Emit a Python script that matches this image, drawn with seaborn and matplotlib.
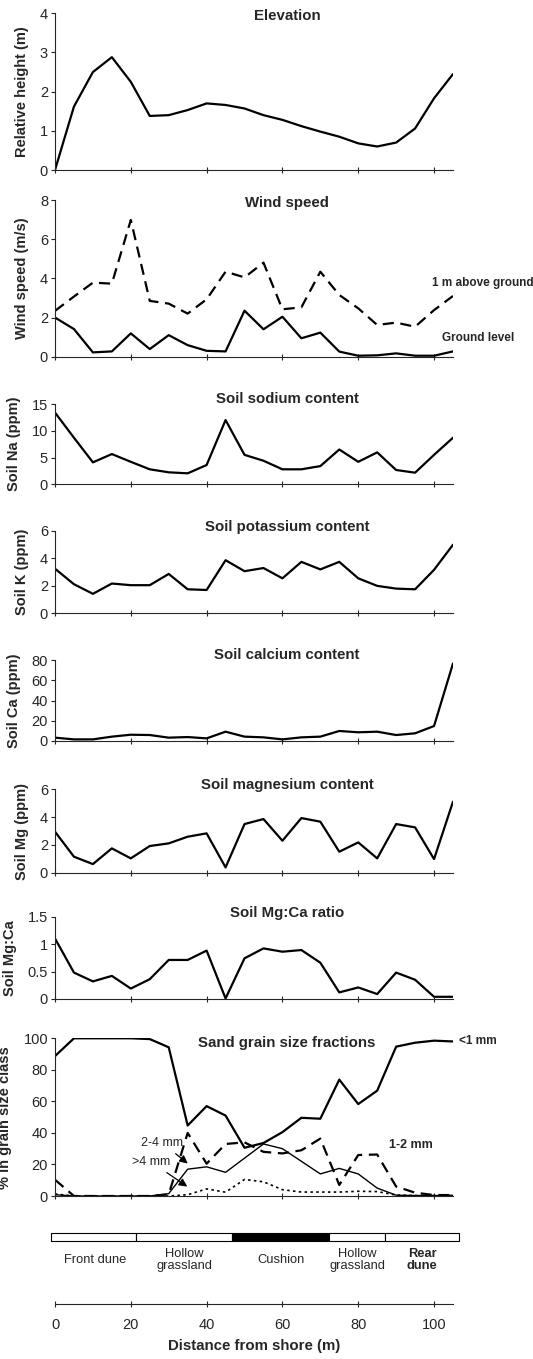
import matplotlib
matplotlib.use("Agg")
import pandas as pd
import matplotlib.pyplot as plt
import seaborn as sns
from matplotlib.ticker import FormatStrFormatter

# distance along the transect (m)
distance = list(range(0, 106, 5))

elevation = [0, 1.62, 2.5, 2.88, 2.25, 1.38, 1.4, 1.53, 1.7, 1.66, 1.57,
             1.4, 1.28, 1.12, 0.98, 0.85, 0.68, 0.6, 0.7, 1.06, 1.83, 2.45]

wind_1m = [2.34, 3.07, 3.78, 3.73, 6.98, 2.85, 2.71, 2.2, 2.93, 4.34, 4.05,
           4.8, 2.42, 2.52, 4.34, 3.15, 2.47, 1.62, 1.74, 1.53, 2.38, 3.1]
wind_ground = [2.0, 1.41, 0.22, 0.27, 1.19, 0.39, 1.1, 0.59, 0.3, 0.27, 2.35,
               1.4, 2.04, 0.94, 1.23, 0.26, 0.05, 0.07, 0.17, 0.05, 0.05, 0.27]

sodium = [13.4, 8.7, 4.1, 5.65, 4.2, 2.8, 2.24, 2.05, 3.6, 12.0, 5.5,
          4.4, 2.8, 2.8, 3.4, 6.5, 4.2, 5.96, 2.67, 2.17, 5.5, 8.7]
potassium = [3.25, 2.12, 1.42, 2.17, 2.05, 2.05, 2.87, 1.75, 1.7, 3.87, 3.07,
             3.3, 2.55, 3.75, 3.2, 3.75, 2.55, 2.0, 1.8, 1.75, 3.17, 5.0]
calcium = [3.3, 1.6, 1.6, 4.3, 6.2, 5.9, 3.3, 3.9, 2.6, 9.2, 4.3,
           3.6, 1.6, 3.6, 4.3, 9.9, 8.6, 9.2, 5.9, 7.6, 14.8, 76.6]
magnesium = [2.95, 1.15, 0.62, 1.75, 1.03, 1.92, 2.11, 2.59, 2.83, 0.38, 3.5,
             3.86, 2.3, 3.93, 3.67, 1.51, 2.18, 1.03, 3.5, 3.26, 0.98, 5.11]
mg_ca = [1.1, 0.48, 0.32, 0.42, 0.19, 0.36, 0.71, 0.71, 0.88, 0.01, 0.74,
         0.92, 0.86, 0.89, 0.66, 0.12, 0.21, 0.09, 0.48, 0.35, 0.04, 0.04]

grain_lt1 = [88.7, 100, 100, 100, 100, 99.5, 94.3, 44.7, 57, 51, 30.6,
             33.6, 40.5, 49.6, 49, 73.8, 58.3, 66.8, 94.7, 97.2, 98.5, 98]
grain_1_2 = [10.3, 0, 0, 0, 0, 0, 1, 40, 20.5, 33, 34,
             28, 27, 29, 36.4, 7, 26, 26.3, 6, 2.1, 0.6, 0.6]
grain_2_4 = [0.8, 0, 0, 0, 0, 0, 1.5, 17, 18.5, 15, 24,
             33, 30, 22, 14, 17.5, 14, 5, 0.5, 0.3, 0.3, 0.3]
grain_gt4 = [1.3, 0, 0, 0, 0, 0, 0, 0.8, 4.5, 2.4, 10.5,
             9, 4, 2.5, 2.5, 2.5, 3, 2.8, 0.6, 0.3, 0.3, 0.3]

zone_names = ["Front dune", "Hollow\ngrassland", "Cushion", "Hollow\ngrassland", "Rear\ndune"]
zone_start = [-1, 21.3, 46.8, 72.4, 87.1]
zone_end = [21.3, 46.8, 72.4, 87.1, 106.6]

df = pd.DataFrame({"dist": distance, "elev": elevation, "w1": wind_1m, "w0": wind_ground,
                   "na": sodium, "k": potassium, "ca": calcium, "mg": magnesium,
                   "mgca": mg_ca, "g1": grain_lt1, "g12": grain_1_2, "g24": grain_2_4,
                   "g4": grain_gt4})

sns.set_style("ticks")
plt.rcParams['font.family'] = ['Liberation Sans', 'DejaVu Sans']

W, H = 533, 1359
fig = plt.figure(figsize=(W / 100, H / 100), dpi=100)
LEFT, RIGHT = 55, 453
TITLE_X = 287


def add_panel(top, bottom):
    return fig.add_axes([LEFT / W, 1 - bottom / H, (RIGHT - LEFT) / W, (bottom - top) / H])


# (top px, bottom px, ymax, ytick step, ylabel, title, title y px)
panels = [
    (13.3, 170, 4, 1, "Relative height (m)", "Elevation", 16),
    (200, 356.7, 8, 2, "Wind speed (m/s)", "Wind speed", 203),
    (404, 484.3, 15, 5, "Soil Na (ppm)", "Soil sodium content", 399),
    (531, 613.3, 6, 2, "Soil K (ppm)", "Soil potassium content", 527),
    (660, 741, 80, 20, "Soil Ca (ppm)", "Soil calcium content", 655),
    (789.3, 872.7, 6, 2, "Soil Mg (ppm)", "Soil magnesium content", 785),
    (916.5, 999, 1.5, 0.5, "Soil Mg:Ca", "Soil Mg:Ca ratio", 913),
    (1038.3, 1196, 100, 20, "% in grain size class", "Sand grain size fractions", 1043),
]
series = [["elev"], ["w1", "w0"], ["na"], ["k"], ["ca"], ["mg"], ["mgca"],
          ["g1", "g12", "g24", "g4"]]
styles = {
    "w1": dict(linestyle=(0, (5, 3)), linewidth=1.6),
    "g12": dict(linestyle=(0, (5, 3)), linewidth=1.6),
    "g24": dict(linestyle="-", linewidth=1.0),
    "g4": dict(linestyle=(0, (1.5, 2)), linewidth=1.2),
}

axes = []
for (top, bot, ymax, step, ylab, title, ty), cols in zip(panels, series):
    ax = add_panel(top, bot)
    for c in cols:
        st = styles.get(c, dict(linestyle="-", linewidth=1.6))
        sns.lineplot(data=df, x="dist", y=c, ax=ax, color="black", **st)
    ax.set_xlim(0, 105)
    ax.set_ylim(0, ymax)
    n = int(round(ymax / step))
    ax.set_yticks([i * step for i in range(n + 1)])
    ax.yaxis.set_major_formatter(FormatStrFormatter('%g'))
    ax.set_xticks([0, 20, 40, 60, 80, 100])
    ax.tick_params(axis='x', direction='inout', length=5, width=0.8, labelbottom=False)
    ax.tick_params(axis='y', direction='out', length=3, width=0.8, labelsize=10.5, pad=2)
    ax.set_xlabel("")
    ax.set_ylabel(ylab, fontsize=10.5, fontweight='bold', labelpad=8)
    for s in ["left", "bottom"]:
        ax.spines[s].set_linewidth(0.8)
    sns.despine(ax=ax)
    fig.text(TITLE_X / W, 1 - ty / H, title, ha='center', va='center',
             fontsize=10.8, fontweight='bold')
    axes.append(ax)

# wind labels
fig.text(432 / W, 1 - 283 / H, "1 m above ground", fontsize=8.5, fontweight='bold', va='center')
fig.text(442 / W, 1 - 338 / H, "Ground level", fontsize=8.5, fontweight='bold', va='center')

# grain size labels
gax = axes[7]
gax.text(106.5, 98, "<1 mm", fontsize=8.6, fontweight='bold', va='center', clip_on=False)
gax.text(94, 32.5, "1-2 mm", fontsize=9, fontweight='bold', va='center', ha='center')
arrow = dict(arrowstyle='-|>', color='black', lw=0.9, mutation_scale=12)
gax.annotate("2-4 mm", xy=(35.6, 19.5), xytext=(28.2, 33.8), fontsize=9,
             ha='center', va='center', arrowprops=arrow)
gax.annotate(">4 mm", xy=(35.5, 5), xytext=(25.3, 21.7), fontsize=9,
             ha='center', va='center', arrowprops=arrow)

# zone bar + distance axis
zax = add_panel(1225, 1304)
zax.set_xlim(0, 105)
zax.set_ylim(0, 1)
for name, s, e in zip(zone_names, zone_start, zone_end):
    fill = "black" if name == "Cushion" else "white"
    zax.barh(0.848, e - s, left=s, height=0.1, color=fill, edgecolor="black",
             linewidth=0.8, clip_on=False)
    wt = 'bold' if name.startswith("Rear") else 'normal'
    zax.text((s + e) / 2 + (0.5 if name == "Front dune" else 0), 0.56, name,
             ha='center', va='center', fontsize=9.3, fontweight=wt, linespacing=1.0)
zax.set_xticks([0, 20, 40, 60, 80, 100])
zax.set_yticks([])
zax.tick_params(axis='x', direction='inout', length=4, width=0.8, labelsize=10.5, pad=8)
zax.set_xlabel("Distance from shore (m)", fontsize=10.8, fontweight='bold', labelpad=5)
sns.despine(ax=zax, left=True)
zax.spines['bottom'].set_linewidth(0.8)

fig.savefig("out.png", dpi=100)
